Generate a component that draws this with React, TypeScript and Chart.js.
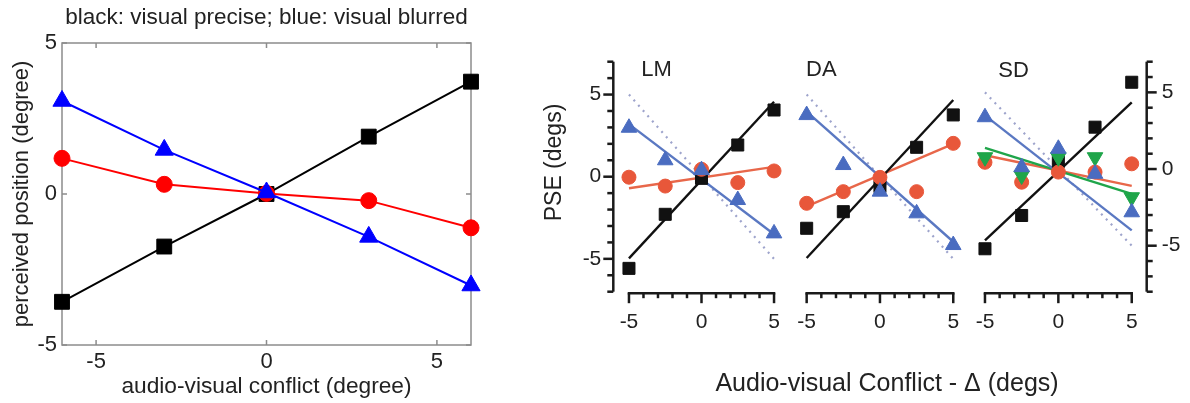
import React, { useEffect, useRef } from 'react';
import { Chart, registerables } from 'chart.js';
Chart.register(...registerables);

const FONT = '"Liberation Sans", Arial, Helvetica, sans-serif';
const W = 1190;
const H = 403;

// ---------- Left panel data ----------
const leftX = [-6, -3, 0, 3, 6];
const leftPrecise = [-3.57, -1.74, 0, 1.9, 3.72];
const leftBlurred = [3.08, 1.46, 0.05, -1.42, -3.03];
const leftRed = [1.18, 0.32, 0.02, -0.22, -1.12];
const leftTicks = [-5, 0, 5];

// ---------- Right panels data ----------
const conflictX = [-5, -2.5, 0, 2.5, 5];
const fitX = [-5, 5];
const panelTicks = [-5, 0, 5];
const predictionLine = [5, -5];

const lmSquares = [-5.58, -2.29, -0.1, 1.93, 4.06];
const lmTriangles = [2.98, 1.0, 0.4, -1.42, -3.45];
const lmCircles = [-0.03, -0.57, 0.45, -0.36, 0.35];
const lmSquareFit = [-4.97, 4.56];
const lmTriangleFit = [3.2, -3.5];
const lmCircleFit = [-0.7, 0.6];

const daSquares = [-3.14, -2.13, -0.6, 1.79, 3.76];
const daTriangles = [3.75, 0.71, -0.91, -2.23, -4.16];
const daCircles = [-1.62, -0.91, -0.04, -0.91, 2.03];
const daSquareFit = [-4.95, 4.67];
const daTriangleFit = [3.96, -3.96];
const daCircleFit = [-1.8, 2.0];

const sdSquares = [-5.2, -3.03, 0.5, 2.73, 5.66];
const sdTriangles = [3.38, 0.12, 1.32, -0.31, -2.82];
const sdCircles = [0.44, -0.86, -0.2, -0.2, 0.34];
const sdInverted = [0.77, -0.42, 0.77, 0.77, -1.84];
const sdSquareFit = [-4.65, 4.35];
const sdTriangleFit = [3.5, -4.0];
const sdCircleFit = [0.9, -1.1];
const sdInvertedFit = [1.38, -1.62];

const pts = (xs: number[], ys: number[]) => xs.map((x, i) => ({ x, y: ys[i] }));

const C_BLACK = '#111111';
const C_BLUE = '#4a6cc0';
const C_BLUE_LINE = '#5a78c2';
const C_ORANGE = '#e8573a';
const C_ORANGE_LINE = '#e8674a';
const C_GREEN = '#1fa54a';
const C_DOT = '#9ea4cc';
const TEXT = '#222222';

// ---------- Plugins ----------
const matlabBox = {
  id: 'matlabBox',
  beforeDatasetsDraw(chart: any) {
    const { ctx, chartArea: a } = chart;
    const x = chart.scales.x;
    const y = chart.scales.y;
    ctx.save();
    ctx.strokeStyle = '#8c8c8c';
    ctx.lineWidth = 1.5;
    ctx.strokeRect(a.left, a.top, a.right - a.left, a.bottom - a.top);
    const t = 5;
    leftTicks.forEach((v) => {
      const px = x.getPixelForValue(v);
      ctx.beginPath();
      ctx.moveTo(px, a.bottom); ctx.lineTo(px, a.bottom - t);
      ctx.moveTo(px, a.top); ctx.lineTo(px, a.top + t);
      ctx.stroke();
      const py = y.getPixelForValue(v);
      ctx.beginPath();
      ctx.moveTo(a.left, py); ctx.lineTo(a.left + t, py);
      ctx.moveTo(a.right, py); ctx.lineTo(a.right - t, py);
      ctx.stroke();
    });
    ctx.restore();
  },
};

const prismAxes = (side: 'left' | 'right' | 'none', label: string, labelX: number, labelY: number, yTitle?: string) => ({
  id: 'prismAxes',
  afterDraw(chart: any) {
    const { ctx, chartArea: a } = chart;
    const x = chart.scales.x;
    const y = chart.scales.y;
    ctx.save();
    ctx.strokeStyle = '#1a1a1a';
    ctx.lineWidth = 2.5;
    ctx.lineCap = 'square';
    const ay = a.bottom + 1.5;
    ctx.beginPath();
    ctx.moveTo(x.getPixelForValue(-5), ay);
    ctx.lineTo(x.getPixelForValue(5), ay);
    ctx.stroke();
    ctx.lineCap = 'butt';
    for (let v = -5; v <= 5; v++) {
      const px = x.getPixelForValue(v);
      const len = v % 5 === 0 ? 10 : 5;
      ctx.beginPath();
      ctx.moveTo(px, ay);
      ctx.lineTo(px, ay + len);
      ctx.stroke();
    }
    if (side !== 'none') {
      const ax = side === 'left' ? a.left : a.right;
      const dir = side === 'left' ? -1 : 1;
      ctx.beginPath();
      ctx.moveTo(ax, y.getPixelForValue(y.max));
      ctx.lineTo(ax, y.getPixelForValue(y.min));
      ctx.stroke();
      for (let v = Math.ceil(y.min); v <= y.max; v++) {
        const py = y.getPixelForValue(v);
        const len = v % 5 === 0 ? 10 : 6;
        ctx.beginPath();
        ctx.moveTo(ax, py);
        ctx.lineTo(ax + dir * len, py);
        ctx.stroke();
      }
    }
    ctx.fillStyle = TEXT;
    ctx.font = `22px ${FONT}`;
    ctx.textAlign = 'center';
    ctx.textBaseline = 'middle';
    ctx.fillText(label, x.getPixelForValue(labelX), y.getPixelForValue(labelY));
    if (yTitle) {
      ctx.save();
      ctx.font = `23px ${FONT}`;
      ctx.translate(555, 162.5);
      ctx.rotate(-Math.PI / 2);
      ctx.fillText(yTitle, 0, 0);
      ctx.restore();
    }
    ctx.restore();
  },
});

// ---------- Config builders ----------
const fixedTicks = (vals: number[]) => (s: any) => {
  s.ticks = vals.map((v) => ({ value: v }));
};

function leftConfig(): any {
  return {
    type: 'scatter',
    data: {
      datasets: [
        {
          label: 'visual blurred', data: pts(leftX, leftBlurred), showLine: true, clip: false,
          borderColor: '#0000ff', backgroundColor: '#0000ff', borderWidth: 2,
          pointStyle: 'triangle', pointRadius: 10.5, pointBorderWidth: 1,
        },
        {
          label: 'red', data: pts(leftX, leftRed), showLine: true, clip: false,
          borderColor: '#ff0000', backgroundColor: '#ff0000', borderWidth: 2,
          pointStyle: 'circle', pointRadius: 8, pointBorderWidth: 1,
        },
        {
          label: 'visual precise', data: pts(leftX, leftPrecise), showLine: true, clip: false,
          borderColor: '#000000', backgroundColor: '#000000', borderWidth: 2,
          pointStyle: 'rect', pointRadius: 10.5, pointBorderWidth: 1,
        },
      ],
    },
    options: {
      responsive: false, animation: false, events: [],
      layout: { padding: { left: 0, right: W - 471, top: 0, bottom: 0 } },
      plugins: {
        legend: { display: false }, tooltip: { enabled: false },
        title: {
          display: true, text: 'black: visual precise; blue: visual blurred', fullSize: false,
          color: TEXT, font: { family: FONT, size: 22.5, weight: 'normal', lineHeight: 1.2 },
          padding: { top: 4.5, bottom: 11.5 },
        },
      },
      scales: {
        x: {
          type: 'linear', min: -6, max: 6,
          afterBuildTicks: fixedTicks(leftTicks),
          afterFit: (s: any) => { s.height = H - 345; },
          grid: { display: false, drawTicks: false }, border: { display: false },
          ticks: { color: TEXT, font: { family: FONT, size: 22 }, padding: 4 },
          title: { display: true, text: 'audio-visual conflict (degree)', color: TEXT, font: { family: FONT, size: 22.7 }, padding: { top: 0, bottom: 2.6 } },
        },
        y: {
          type: 'linear', min: -5, max: 5,
          afterBuildTicks: fixedTicks(leftTicks),
          afterFit: (s: any) => { s.width = 62; },
          grid: { display: false, drawTicks: false }, border: { display: false },
          ticks: { color: TEXT, font: { family: FONT, size: 22 }, padding: 5 },
          title: { display: true, text: 'perceived position (degree)', color: TEXT, font: { family: FONT, size: 22 }, padding: { top: 8.8, bottom: 0 } },
        },
      },
    },
    plugins: [matlabBox],
  };
}

interface PanelSpec {
  squares: number[]; triangles: number[]; circles: number[];
  squareFit: number[]; triangleFit: number[]; circleFit: number[];
  inverted?: number[]; invertedFit?: number[];
  xmin: number; xmax: number; ymin: number; ymax: number;
  padLeft: number; padRight: number; yWidth: number;
  side: 'left' | 'right' | 'none';
  showTickLabels: boolean; xTitle?: string; yTitle?: string;
  label: string; labelX: number; labelY: number;
}

function panelConfig(p: PanelSpec): any {
  const fit = (ys: number[], color: string, extra: any = {}) => ({
    data: pts(fitX, ys), showLine: true, clip: false, borderColor: color, backgroundColor: color,
    borderWidth: 2.4, pointRadius: 0, ...extra,
  });
  const marks = (ys: number[], color: string, style: string, r: number, extra: any = {}) => ({
    data: pts(conflictX, ys), showLine: false, clip: false, borderColor: color, backgroundColor: color,
    pointStyle: style, pointRadius: r, pointBorderWidth: 1, ...extra,
  });
  const datasets: any[] = [];
  datasets.push(marks(p.triangles, C_BLUE, 'triangle', 9));
  if (p.inverted) datasets.push(marks(p.inverted, C_GREEN, 'triangle', 9, { rotation: 180 }));
  datasets.push(marks(p.circles, C_ORANGE, 'circle', 7));
  datasets.push(marks(p.squares, C_BLACK, 'rect', 8.5));
  datasets.push(fit(p.squareFit, C_BLACK));
  datasets.push(fit(p.triangleFit, C_BLUE_LINE));
  if (p.invertedFit) datasets.push(fit(p.invertedFit, C_GREEN));
  datasets.push(fit(p.circleFit, C_ORANGE_LINE));
  datasets.push(fit(predictionLine, C_DOT, { borderDash: [2, 5], borderWidth: 2.2 }));
  return {
    type: 'scatter',
    data: { datasets },
    options: {
      responsive: false, animation: false, events: [],
      layout: { padding: { left: p.padLeft, right: p.padRight, top: 61.7, bottom: 0 } },
      plugins: { legend: { display: false }, tooltip: { enabled: false } },
      scales: {
        x: {
          type: 'linear', min: p.xmin, max: p.xmax,
          afterBuildTicks: fixedTicks(panelTicks),
          afterFit: (s: any) => { s.height = H - 291.7; },
          grid: { display: false, drawTicks: false }, border: { display: false },
          ticks: { display: p.showTickLabels, color: TEXT, font: { family: FONT, size: 21 }, padding: 17.8 },
          title: {
            display: !!p.xTitle, text: p.xTitle || '', color: TEXT,
            font: { family: FONT, size: 25 }, padding: { top: 0, bottom: 4 },
          },
        },
        y: {
          type: 'linear', min: p.ymin, max: p.ymax,
          display: p.side !== 'none',
          position: p.side === 'right' ? 'right' : 'left',
          afterBuildTicks: fixedTicks(panelTicks),
          afterFit: (s: any) => { s.width = p.yWidth; },
          grid: { display: false, drawTicks: false }, border: { display: false },
          ticks: { color: TEXT, font: { family: FONT, size: 21 }, padding: p.side === 'right' ? 15 : 12 },
        },
      },
    },
    plugins: [prismAxes(p.side, p.label, p.labelX, p.labelY, p.yTitle)],
  };
}

const panels: PanelSpec[] = [
  {
    squares: lmSquares, triangles: lmTriangles, circles: lmCircles,
    squareFit: lmSquareFit, triangleFit: lmTriangleFit, circleFit: lmCircleFit,
    xmin: -6.08, xmax: 5.48, ymin: -7, ymax: 7,
    padLeft: 530, padRight: W - 781, yWidth: 613.3 - 530,
    side: 'left', showTickLabels: true, yTitle: 'PSE (degs)',
    label: 'LM', labelX: -3.1, labelY: 6.5,
  },
  {
    squares: daSquares, triangles: daTriangles, circles: daCircles,
    squareFit: daSquareFit, triangleFit: daTriangleFit, circleFit: daCircleFit,
    xmin: -13.64, xmax: 14.6, ymin: -7, ymax: 7,
    padLeft: 680, padRight: W - 1094, yWidth: 0,
    side: 'none', showTickLabels: true, xTitle: 'Audio-visual Conflict - \u0394 (degs)',
    label: 'DA', labelX: -4.0, labelY: 6.5,
  },
  {
    squares: sdSquares, triangles: sdTriangles, circles: sdCircles,
    squareFit: sdSquareFit, triangleFit: sdTriangleFit, circleFit: sdCircleFit,
    inverted: sdInverted, invertedFit: sdInvertedFit,
    xmin: -6.02, xmax: 6.02, ymin: -8, ymax: 7,
    padLeft: 970, padRight: 0, yWidth: W - 1146.7,
    side: 'right', showTickLabels: true,
    label: 'SD', labelX: -3.05, labelY: 6.4,
  },
];

function ChartCanvas({ make }: { make: () => any }) {
  const ref = useRef<HTMLCanvasElement | null>(null);
  useEffect(() => {
    if (!ref.current) return;
    const chart = new Chart(ref.current, make());
    return () => chart.destroy();
  }, []);
  return (
    <canvas
      ref={ref}
      width={W}
      height={H}
      style={{ position: 'absolute', left: 0, top: 0, width: W, height: H }}
    />
  );
}

export default function App() {
  return (
    <div style={{ position: 'absolute', left: 0, top: 0, width: W, height: H, background: '#ffffff', overflow: 'hidden' }}>
      <ChartCanvas make={leftConfig} />
      {panels.map((p, i) => (
        <ChartCanvas key={i} make={() => panelConfig(p)} />
      ))}
    </div>
  );
}
